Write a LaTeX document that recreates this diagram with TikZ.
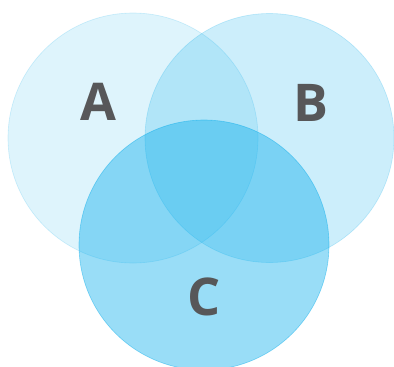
\documentclass[tikz,border=0pt]{standalone}
\usepackage{fontspec}
\setmainfont{Open Sans}
\definecolor{venn}{RGB}{0,170,235}
\definecolor{lettergray}{RGB}{87,87,89}
\begin{document}
\begin{tikzpicture}[x=1pt,y=-1pt,
  setA/.style={fill=venn,fill opacity=0.13,draw=venn,draw opacity=0.18,line width=0.6pt},
  setB/.style={fill=venn,fill opacity=0.2,draw=venn,draw opacity=0.22,line width=0.6pt},
  setC/.style={fill=venn,fill opacity=0.4,draw=venn,draw opacity=0.45,line width=0.6pt},
  letter/.style={text=lettergray,font=\fontsize{52}{52}\selectfont\bfseries,inner sep=0pt}]
\useasboundingbox (0,0) rectangle (394,367);
\clip (0,0) rectangle (394,367);
\fill[white] (0,0) rectangle (394,367);
\path[setA] (133,138) circle (125);
\path[setB] (269.5,138) circle (124.5);
\path[setC] (204,245) circle (125);
\node[letter] (a) at (98,102) {A};
\node[letter] (b) at (311,103) {B};
\node[letter] (c) at (204,297) {C};
\end{tikzpicture}
\end{document}
